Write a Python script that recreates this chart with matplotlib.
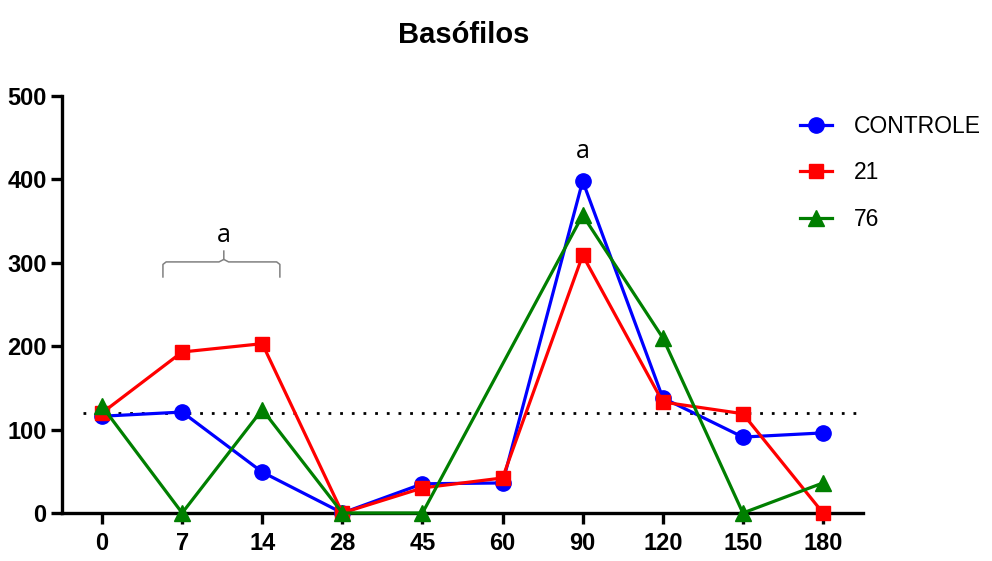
import numpy as np
import matplotlib
matplotlib.use("Agg")
import matplotlib.pyplot as plt

# Days after treatment (categorical x axis)
days = ["0", "7", "14", "28", "45", "60", "90", "120", "150", "180"]

# Basophil counts per group
controle = [116, 121, 49, 0, 35, 36, 398, 138, 91, 96]
grupo_21 = [120, 193, 203, 0, 30, 42, 309, 133, 119, 0]
grupo_76 = [128, 0, 124, 0, 0, np.nan, 357, 210, 0, 36]

reference_level = 120

series_names = ["CONTROLE", "21", "76"]

font = "Liberation Sans"

fig = plt.figure(figsize=(9.92, 5.61), dpi=100)
ax = fig.add_axes([0.0625, 0.0856, 0.8075, 0.7434])

x = np.arange(len(days))
styles = [
    (controle, "#0000ff", "o", 11),
    (grupo_21, "#ff0000", "s", 10),
    (grupo_76, "#007f00", "^", 11),
]
handles = []
for (vals, col, mk, ms), name in zip(styles, series_names):
    v = np.asarray(vals, dtype=float)
    ok = ~np.isnan(v)
    h, = ax.plot(x[ok], v[ok], color=col, marker=mk, markersize=ms,
                 linewidth=2.3, label=name, clip_on=False, zorder=3)
    handles.append(h)

# dotted baseline
ax.plot([-0.24, 9.41], [reference_level, reference_level], color="black",
        linestyle=(0, (1, 3.2)), linewidth=2.0, zorder=2)

ax.set_xlim(-0.5, 9.5)
ax.set_ylim(0, 500)
ax.set_xticks(x)
ax.set_xticklabels(days)
ax.set_yticks(np.arange(0, 501, 100))

for s in ["top", "right"]:
    ax.spines[s].set_visible(False)
for s in ["left", "bottom"]:
    ax.spines[s].set_linewidth(2.4)
ax.tick_params(axis="y", direction="out", length=8, width=2.4, pad=3)
ax.tick_params(axis="x", direction="out", length=8, width=2.4, pad=6)
for lbl in ax.get_xticklabels() + ax.get_yticklabels():
    lbl.set_fontfamily(font)
    lbl.set_fontweight("bold")
    lbl.set_fontsize(17)

# significance marks
brace_y = 301
ax.plot([0.76, 0.76, 0.80, 1.46, 1.52, 1.52], [283, 298, brace_y, brace_y, 304, 314],
        color="#808080", linewidth=1.1, clip_on=False)
ax.plot([1.52, 1.58, 2.18, 2.22, 2.22], [304, brace_y, brace_y, 298, 283],
        color="#808080", linewidth=1.1, clip_on=False)
ax.text(1.52, 318, "a", ha="center", va="bottom", fontsize=18, family="Open Sans")
ax.text(6.0, 418, "a", ha="center", va="bottom", fontsize=18, family="Open Sans")

fig.text(0.467, 0.938, "Basófilos", ha="center", va="center",
         fontsize=21, fontweight="bold", family=font)

leg = fig.legend(handles=handles, loc="upper left", bbox_to_anchor=(0.786, 0.832),
                 frameon=False, handlelength=1.4, handletextpad=0.95,
                 labelspacing=1.02, prop={"family": font, "size": 16.5})

fig.savefig("out.png", dpi=100)
